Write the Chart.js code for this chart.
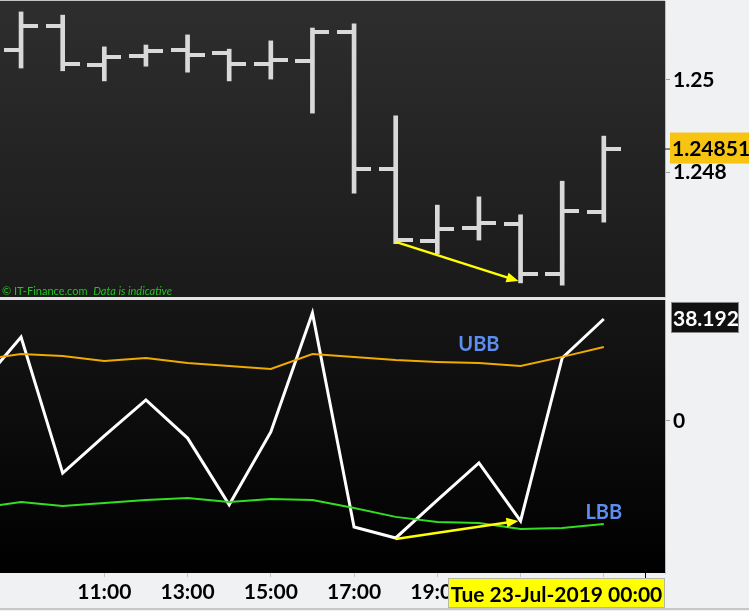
<!DOCTYPE html>
<html>
<head>
<meta charset="utf-8">
<script src="https://cdn.jsdelivr.net/npm/chart.js"></script>
<style>
  html, body { margin: 0; padding: 0; background: #f0f1f3; }
  #wrap { position: relative; width: 749px; height: 611px; overflow: hidden; background: #f0f1f3; }
  canvas { position: absolute; left: 0; }
  #priceChart { top: 0; }
  #cciChart { top: 300px; }
  .line { position: absolute; }
</style>
</head>
<body>
<div id="wrap">
  <canvas id="priceChart" width="749" height="298"></canvas>
  <canvas id="cciChart" width="749" height="311"></canvas>
  <div class="line" style="left:0;top:0;width:665px;height:1px;background:#c4c4c4"></div>
  <div class="line" style="left:0;top:297px;width:665px;height:3px;background:#e4e4e4"></div>
  <div class="line" style="left:0;top:608px;width:749px;height:2px;background:#c8c8c8"></div>
</div>
<script>
// hourly bars, 22-Jul-2019
const hours = [9, 10, 11, 12, 13, 14, 15, 16, 17, 18, 19, 20, 21, 22, 23];
const opens  = [1.25065, 1.25117, 1.25033, 1.25052, 1.25065, 1.25059, 1.25035, 1.25041, 1.25104, 1.24807, 1.24650, 1.24678, 1.24687, 1.24578, 1.24713];
const highs  = [1.25148, 1.25141, 1.25072, 1.25076, 1.25098, 1.25067, 1.25085, 1.25113, 1.25122, 1.24922, 1.24728, 1.24746, 1.24707, 1.24780, 1.24878];
const lows   = [1.25026, 1.25020, 1.24998, 1.25030, 1.25017, 1.24998, 1.25002, 1.24928, 1.24754, 1.24644, 1.24622, 1.24652, 1.24559, 1.24554, 1.24691];
const closes = [1.25117, 1.25035, 1.25050, 1.25063, 1.25054, 1.25035, 1.25043, 1.25104, 1.24807, 1.24652, 1.24676, 1.24689, 1.24578, 1.24715, 1.24851];

// indicator (starts one hour earlier, off the left edge)
const cciHours = [8, 9, 10, 11, 12, 13, 14, 15, 16, 17, 18, 19, 20, 21, 22, 23];
const cci = [13.1, 31.4, -19.5, -5.6, 7.9, -6.4, -31.4, -4.1, 40.4, -39.7, -43.8, -29.6, -15.7, -37.4, 23.6, 38.192];
const ubb = [22.8, 25.1, 24.3, 22.5, 23.6, 21.7, 20.6, 19.5, 25.1, 24.0, 22.8, 22.1, 21.7, 20.6, 24.0, 27.7];
const lbb = [-32.6, -30.3, -31.8, -30.7, -29.6, -28.8, -30.3, -29.2, -29.6, -32.6, -35.9, -37.8, -38.2, -40.4, -40.1, -38.6];

// axis ticks
const priceTicks = [1.248, 1.25];
const cciTicks = [0];
const timeTicks = [11, 13, 15, 17, 19, 21, 23];
const cursorHour = 24;
const cursorLabel = 'Tue 23-Jul-2019 00:00';

// divergence arrows [hour, value]
const priceArrow = [[18, 1.24648], [20.95, 1.24563]];
const cciArrow = [[18, -44.2], [20.95, -37.4]];

const xMin = 8.494, xMax = 24.47;
const font = 'Lato, "Open Sans", sans-serif';
const axisFont = { family: font, size: 21, weight: 'bold' };

function drawArrow(ctx, x1, y1, x2, y2) {
    const ang = Math.atan2(y2 - y1, x2 - x1);
    ctx.save();
    ctx.strokeStyle = '#ffff00';
    ctx.fillStyle = '#ffff00';
    ctx.lineWidth = 2.5;
    ctx.beginPath();
    ctx.moveTo(x1, y1);
    ctx.lineTo(x2 - 8 * Math.cos(ang), y2 - 8 * Math.sin(ang));
    ctx.stroke();
    ctx.beginPath();
    ctx.moveTo(x2, y2);
    ctx.lineTo(x2 - 12 * Math.cos(ang) + 5 * Math.sin(ang), y2 - 12 * Math.sin(ang) - 5 * Math.cos(ang));
    ctx.lineTo(x2 - 12 * Math.cos(ang) - 5 * Math.sin(ang), y2 - 12 * Math.sin(ang) + 5 * Math.cos(ang));
    ctx.closePath();
    ctx.fill();
    ctx.restore();
}

// dark gradient behind each panel
function panelBg(top, bottom) {
    return {
        id: 'panelBg',
        beforeDraw(chart) {
            const { ctx, chartArea: a } = chart;
            const g = ctx.createLinearGradient(0, a.top, 0, a.bottom);
            g.addColorStop(0, top);
            g.addColorStop(1, bottom);
            ctx.save();
            ctx.fillStyle = g;
            ctx.fillRect(a.left, a.top, a.right - a.left, a.bottom - a.top);
            ctx.restore();
        }
    };
}

// open / close ticks, arrow, last price box, watermark
const ohlcExtras = {
    id: 'ohlcExtras',
    afterDatasetsDraw(chart) {
        const { ctx, scales: { x, y } } = chart;
        ctx.save();
        ctx.fillStyle = '#d9d9d9';
        hours.forEach((h, i) => {
            const px = Math.round(x.getPixelForValue(h));
            ctx.fillRect(px - 17, Math.round(y.getPixelForValue(opens[i])) - 2, 16, 4);
            ctx.fillRect(px + 1, Math.round(y.getPixelForValue(closes[i])) - 2, 16, 4);
        });
        ctx.restore();
        drawArrow(ctx, x.getPixelForValue(priceArrow[0][0]), y.getPixelForValue(priceArrow[0][1]),
            x.getPixelForValue(priceArrow[1][0]), y.getPixelForValue(priceArrow[1][1]));
    },
    afterDraw(chart) {
        const { ctx, chartArea: a, scales: { y } } = chart;
        const last = closes[closes.length - 1];
        const py = y.getPixelForValue(last);
        ctx.save();
        ctx.strokeStyle = '#222';
        ctx.lineWidth = 1;
        ctx.beginPath();
        ctx.moveTo(a.right, py + 0.5);
        ctx.lineTo(a.right + 5, py + 0.5);
        ctx.stroke();
        ctx.fillStyle = '#f7c511';
        ctx.fillRect(a.right + 5, py - 16, 90, 31);
        ctx.fillStyle = '#000';
        ctx.font = 'bold 21px ' + font;
        ctx.textBaseline = 'middle';
        ctx.fillText(last.toFixed(5), a.right + 7, py + 1);
        // watermark
        ctx.fillStyle = '#22c322';
        ctx.textBaseline = 'alphabetic';
        ctx.font = '11px ' + font;
        ctx.fillText('\u00a9 IT-Finance.com', a.left + 2, a.bottom - 2);
        const w = ctx.measureText('\u00a9 IT-Finance.com  ').width;
        ctx.font = 'italic 11px ' + font;
        ctx.fillText('Data is indicative', a.left + 2 + w, a.bottom - 2);
        ctx.restore();
    }
};

// arrow, band labels, last value box, date cursor
const cciExtras = {
    id: 'cciExtras',
    afterDatasetsDraw(chart) {
        const { ctx, scales: { x, y } } = chart;
        drawArrow(ctx, x.getPixelForValue(cciArrow[0][0]), y.getPixelForValue(cciArrow[0][1]),
            x.getPixelForValue(cciArrow[1][0]), y.getPixelForValue(cciArrow[1][1]));
        ctx.save();
        ctx.fillStyle = '#5b8ef0';
        ctx.font = 'bold 20px ' + font;
        ctx.textAlign = 'center';
        ctx.textBaseline = 'middle';
        ctx.fillText('UBB', x.getPixelForValue(20), y.getPixelForValue(28.8));
        ctx.fillText('LBB', x.getPixelForValue(23), y.getPixelForValue(-34.4));
        ctx.restore();
    },
    afterDraw(chart) {
        const { ctx, chartArea: a, scales: { x, y } } = chart;
        const last = cci[cci.length - 1];
        const py = y.getPixelForValue(last);
        ctx.save();
        ctx.fillStyle = '#111';
        ctx.fillRect(a.right + 6, py - 17, 68, 31);
        ctx.strokeStyle = '#8a8a8a';
        ctx.lineWidth = 1;
        ctx.strokeRect(a.right + 6.5, py - 16.5, 67, 30);
        ctx.fillStyle = '#fff';
        ctx.font = 'bold 21px ' + font;
        ctx.textBaseline = 'middle';
        ctx.fillText(last.toFixed(3), a.right + 8, py);

        // date cursor on the time axis
        const cx = x.getPixelForValue(cursorHour);
        ctx.strokeStyle = '#000';
        ctx.beginPath();
        ctx.moveTo(Math.round(cx) + 0.5, a.bottom);
        ctx.lineTo(Math.round(cx) + 0.5, a.bottom + 5);
        ctx.stroke();
        const bw = 217, bh = 30;
        const bx = Math.min(cx - bw / 2, a.right - bw);
        const by = a.bottom + 5;
        ctx.fillStyle = '#ffff00';
        ctx.fillRect(bx, by, bw, bh);
        ctx.strokeStyle = '#b8b8a0';
        ctx.strokeRect(bx + 0.5, by + 0.5, bw - 1, bh - 1);
        ctx.fillStyle = '#000';
        ctx.textAlign = 'center';
        ctx.fillText(cursorLabel, bx + bw / 2, by + bh / 2 + 2);
        ctx.restore();
    }
};

// no extra room for the outer tick labels
const noPad = (s) => { s.paddingTop = 0; s.paddingBottom = 0; s.paddingLeft = 0; s.paddingRight = 0; };

const rightAxis = (min, max, ticks, fmt) => ({
    position: 'right',
    min: min,
    max: max,
    afterFit: (s) => { s.width = 84; noPad(s); },
    afterBuildTicks: (s) => { s.ticks = ticks.map(v => ({ value: v })); },
    grid: { drawOnChartArea: false, drawTicks: true, tickLength: 5, color: '#a0a0a0' },
    border: { display: true, color: '#bdbdbd' },
    ticks: { color: '#000', font: axisFont, padding: 3, callback: fmt }
});

// price panel
new Chart(document.getElementById('priceChart'), {
    type: 'bar',
    data: {
        datasets: [{
            data: hours.map((h, i) => ({ x: h, y: [lows[i], highs[i]] })),
            backgroundColor: '#d9d9d9',
            barThickness: 4,
            grouped: false
        }]
    },
    options: {
        responsive: false,
        animation: false,
        events: [],
        layout: { padding: { top: 1, bottom: 1 } },
        plugins: { legend: { display: false }, tooltip: { enabled: false } },
        scales: {
            x: { type: 'linear', min: xMin, max: xMax, offset: false, display: false },
            y: rightAxis(1.245283, 1.251717, priceTicks, v => String(v))
        }
    },
    plugins: [panelBg('#2e2e2e', '#1a1a1a'), ohlcExtras]
});

// indicator panel
const pts = (arr) => cciHours.map((h, i) => ({ x: h, y: arr[i] }));
new Chart(document.getElementById('cciChart'), {
    type: 'line',
    data: {
        datasets: [
            { data: pts(ubb), borderColor: '#f0aa00', borderWidth: 2 },
            { data: pts(lbb), borderColor: '#33dd22', borderWidth: 2 },
            { data: pts(cci), borderColor: '#ffffff', borderWidth: 3 }
        ]
    },
    options: {
        responsive: false,
        animation: false,
        events: [],
        layout: { padding: 0 },
        elements: { point: { radius: 0 }, line: { tension: 0 } },
        datasets: { line: { clip: 0 } },
        plugins: { legend: { display: false }, tooltip: { enabled: false } },
        scales: {
            x: {
                type: 'linear',
                min: xMin,
                max: xMax,
                afterFit: (s) => { s.height = 38; noPad(s); },
                afterBuildTicks: (s) => { s.ticks = timeTicks.map(v => ({ value: v })); },
                grid: { drawOnChartArea: false, drawTicks: true, tickLength: 4, color: '#c4c4c4' },
                border: { display: false },
                ticks: {
                    color: '#000',
                    font: axisFont,
                    padding: 3,
                    maxRotation: 0,
                    autoSkip: false,
                    callback: v => String(v).padStart(2, '0') + ':00'
                }
            },
            y: rightAxis(-56.91, 45.30, cciTicks, v => String(v))
        }
    },
    plugins: [panelBg('#161616', '#000000'), cciExtras]
});
</script>
</body>
</html>
